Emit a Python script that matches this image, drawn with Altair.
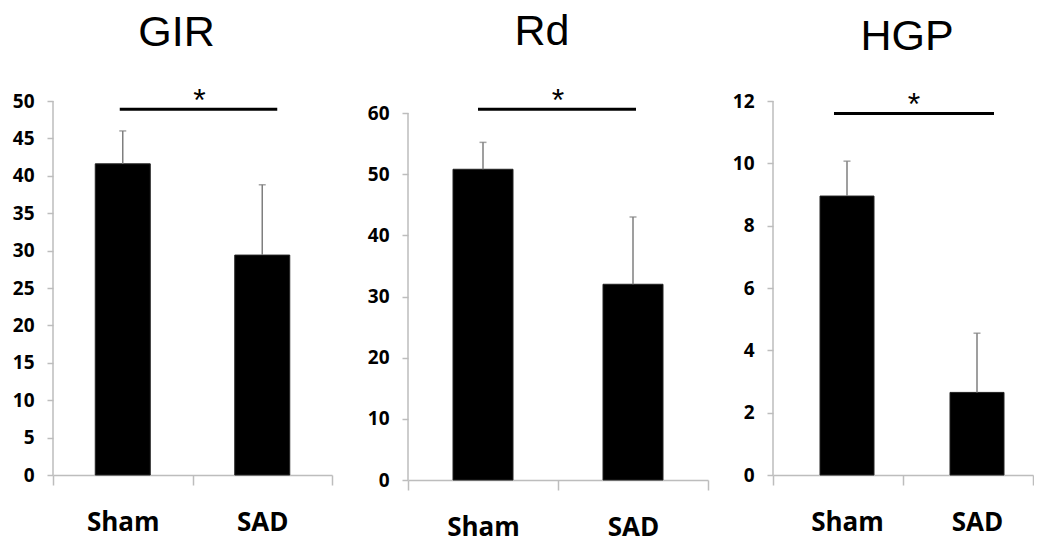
import altair as alt
import pandas as pd

groups = ["Sham", "SAD"]
titles = ["GIR", "Rd", "HGP"]

gir_mean = [41.6, 29.4]
gir_err = [4.4, 9.4]
rd_mean = [50.8, 32.0]
rd_err = [4.4, 11.0]
hgp_mean = [8.95, 2.65]
hgp_err = [1.12, 1.9]

y_max = [50, 60, 12]
y_step = [5, 10, 2]
sig_level = [48.9, 60.6, 11.6]
sig_mark = ["*", "*", "*"]

AXIS_GRAY = "#bdbdbd"
ERR_GRAY = "#7f7f7f"
LABEL_FONT = "Open Sans"


def panel(title, means, errs, ymax, step, sig, star, width, height, dom_max,
          bar_size, title_offset, title_dx, x_off, x2_off, star_dx, shift=0):
    df = pd.DataFrame({
        "group": groups,
        "mean": means,
        "top": [m + e for m, e in zip(means, errs)],
    })
    sig_df = pd.DataFrame({"g1": ["Sham"], "g2": ["SAD"], "level": [sig],
                           "star": [star], "lo": [0], "hi": [ymax]})

    xscale = alt.Scale(domain=groups, paddingInner=0, paddingOuter=0)
    xaxis = alt.Axis(title=None, labelAngle=0, tickBand="extent", tickSize=10,
                     tickColor=AXIS_GRAY, tickWidth=1.5, domainColor=AXIS_GRAY,
                     domainWidth=1.5, labelFont=LABEL_FONT, labelFontWeight="bold",
                     labelFontSize=26, labelColor="black", labelPadding=24,
                     labelBaseline="top", labelOffset=shift)
    yscale = alt.Scale(domain=[0, dom_max], nice=False, zero=True)
    yaxis = alt.Axis(title=None, values=list(range(0, ymax + 1, step)), grid=False,
                     domain=False, tickSize=6, tickColor=AXIS_GRAY, tickWidth=1.5,
                     labelFont=LABEL_FONT, labelFontWeight="bold", labelFontSize=19,
                     labelColor="black", labelPadding=13)

    def X(field, **kw):
        return alt.X(f"{field}:N", scale=xscale, axis=xaxis, sort=groups, **kw)

    def Y(field):
        return alt.Y(f"{field}:Q", scale=yscale, axis=yaxis)

    base = alt.Chart(df)
    bars = base.mark_bar(size=bar_size, color="black", stroke="#222222",
                         strokeWidth=1, xOffset=shift).encode(x=X("group"), y=Y("mean"))
    err = base.mark_rule(color=ERR_GRAY, strokeWidth=1.5, xOffset=shift).encode(
        x=X("group"), y=Y("mean"), y2="top:Q")
    cap = base.mark_tick(color=ERR_GRAY, thickness=1.5, size=7,
                         orient="horizontal", xOffset=shift).encode(x=X("group"), y=Y("top"))
    sig_chart = alt.Chart(sig_df)
    yline = sig_chart.mark_rule(color=AXIS_GRAY, strokeWidth=1.5).encode(
        x=X("g1", bandPosition=0), y=Y("lo"), y2="hi:Q")
    rule = sig_chart.mark_rule(color="black", strokeWidth=3, xOffset=x_off,
                               x2Offset=x2_off).encode(
        x=X("g1"), x2="g2:N", y=Y("level"))
    txt = sig_chart.mark_text(font="Liberation Sans", fontSize=32, baseline="alphabetic",
                              align="center", dy=2, dx=star_dx, color="black").encode(
        x=X("g1", bandPosition=1), y=Y("level"), text="star:N")

    return alt.layer(yline, bars, err, cap, rule, txt).properties(
        width=width, height=height,
        title=alt.TitleParams(title, font="Liberation Sans", fontSize=43,
                              fontWeight="normal", color="black", anchor="middle",
                              frame="group", offset=title_offset, dx=title_dx),
    )


p1 = panel(titles[0], gir_mean, gir_err, y_max[0], y_step[0], sig_level[0], sig_mark[0],
           279, 374, 50, 55, 30, -16, -3, 15, 7)
p2 = panel(titles[1], rd_mean, rd_err, y_max[1], y_step[1], sig_level[1], sig_mark[1],
           300, 379, 60 * 379 / 367, 60, 31, -16, -5, 3, 0)
p3 = panel(titles[2], hgp_mean, hgp_err, y_max[2], y_step[2], sig_level[2], sig_mark[2],
           260, 374, 12, 54, 30, 4, -4, 26, 11, shift=9)

chart = alt.hconcat(alt.hconcat(p1, p2, spacing=34), p3, spacing=23).properties(
    padding={"left": 4, "top": 3, "right": 0, "bottom": 0}
).configure(background="white", view=alt.ViewConfig(stroke=None))

chart.save("out.html", embed_options={"renderer": "svg", "actions": False})
